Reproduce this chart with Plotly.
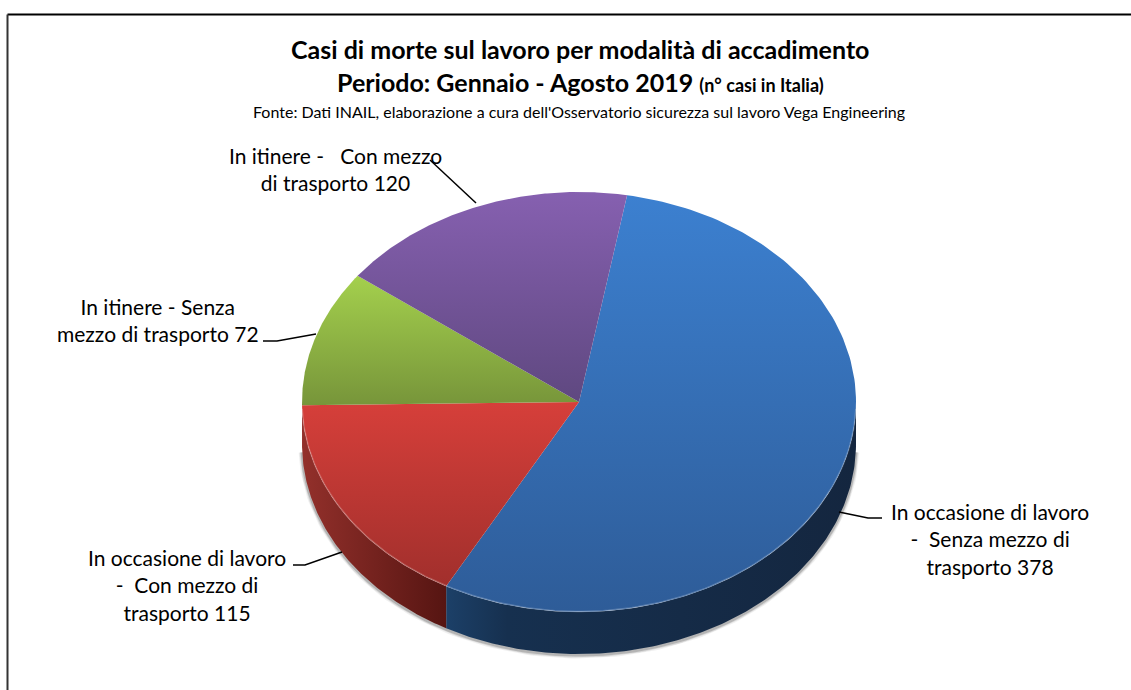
import numpy as np
import plotly.graph_objects as go

# ---- data -------------------------------------------------------------
categories = ["In occasione di lavoro<br>-  Senza mezzo di<br>trasporto 378",
              "In occasione di lavoro<br>-  Con mezzo di<br>trasporto 115",
              "In itinere - Senza<br>mezzo di trasporto 72",
              "In itinere -   Con mezzo<br>di trasporto 120"]
values = [378, 115, 72, 120]
top_colors = ["#3c80d0", "#d63f3a", "#a4d04d", "#8660b0"]
bottom_colors = ["#2e5c98", "#a12f2c", "#77953a", "#5f4880"]
wall_scales = [[[0, "#1c4068"], [0.15, "#16304f"], [1, "#14263f"]],
               [[0, "#93302b"], [1, "#561512"]],
               None,
               None]
title_1 = "Casi di morte sul lavoro per modalità di accadimento"
title_2 = "Periodo: Gennaio - Agosto 2019"
title_3 = "(n° casi in Italia)"
source = "Fonte: Dati INAIL, elaborazione a cura dell'Osservatorio sicurezza sul lavoro Vega Engineering"

# ---- geometry (pixels) ------------------------------------------------
CX, CY, RX, RY, DEPTH = 579, 402, 277, 210, 42
START = 10.0
FONT = "Lato"


def arc(a0, a1, dy=0.0, n=160):
    t = np.radians(np.linspace(a0, a1, n))
    return CX + RX * np.sin(t), CY - RY * np.cos(t) + dy


fig = go.Figure()

edges = START + np.concatenate([[0], np.cumsum(values)]) * 360.0 / sum(values)

# soft shadow under the disc
for w, alpha in [(7, 0.08), (5, 0.14), (3, 0.25)]:
    x, y = arc(92, 268, DEPTH + 1.0)
    fig.add_trace(go.Scatter(x=x, y=y, mode="lines", hoverinfo="skip",
                             line=dict(color=f"rgba(70,70,70,{alpha})", width=w)))

# side walls (front part only)
for i in range(len(values)):
    a0, a1 = max(edges[i], 90), min(edges[i + 1], 270)
    if a1 <= a0 or wall_scales[i] is None:
        continue
    xt, yt = arc(a0, a1)
    xb, yb = arc(a1, a0, DEPTH)
    fig.add_trace(go.Scatter(x=np.r_[xt, xb], y=np.r_[yt, yb], mode="lines", fill="toself",
                             hoverinfo="skip", line=dict(width=0),
                             fillgradient=dict(type="horizontal", colorscale=wall_scales[i])))

# top faces (the y axis is reversed, so the gradient runs bottom -> top in scale order)
for i in range(len(values)):
    x, y = arc(edges[i], edges[i + 1])
    fig.add_trace(go.Scatter(x=np.r_[CX, x, CX], y=np.r_[CY, y, CY], mode="lines", fill="toself",
                             hoverinfo="skip", line=dict(width=0),
                             fillgradient=dict(type="vertical",
                                               colorscale=[[0, bottom_colors[i]], [1, top_colors[i]]])))

# light rim on the front edge of the top face
x, y = arc(92, 268, -0.5)
fig.add_trace(go.Scatter(x=x, y=y, mode="lines", hoverinfo="skip",
                         line=dict(color="rgba(255,255,255,0.22)", width=1.5)))

# leader lines: (label anchor) -> elbow -> slice
leaders = [([882, 868, 839], [518, 518, 512]),
           ([293, 305, 342], [565, 565, 552]),
           ([263, 277, 316], [341, 341, 334]),
           ([430, 476], [160, 203])]
for lx, ly in leaders:
    fig.add_trace(go.Scatter(x=lx, y=ly, mode="lines", hoverinfo="skip",
                             line=dict(color="black", width=1.5)))

# labels
LABEL_POS = [(990, 539), (187, 585), (158, 320), (335, 169)]
anns = []
for txt, (lx, ly) in zip(categories, LABEL_POS):
    anns.append(dict(x=lx, y=ly, text=txt, showarrow=False, align="center",
                     font=dict(family=FONT, size=21, color="black"),
                     xanchor="center", yanchor="middle"))
anns.append(dict(x=580, y=49, text=f"<b>{title_1}</b>", showarrow=False,
                 font=dict(family=FONT, size=25, color="black")))
anns.append(dict(x=580, y=82, text=f"<b>{title_2} <span style='font-size:18px'>{title_3}</span></b>",
                 showarrow=False, font=dict(family=FONT, size=25, color="black")))
anns.append(dict(x=579, y=111, text=source, showarrow=False,
                 font=dict(family=FONT, size=16, color="black")))

# frame
shapes = [dict(type="line", x0=7.5, x1=1131, y0=14.5, y1=14.5, line=dict(color="black", width=2)),
          dict(type="line", x0=7.5, x1=7.5, y0=14.5, y1=690, line=dict(color="#333333", width=2))]

fig.update_layout(width=1131, height=690, margin=dict(l=0, r=0, t=0, b=0),
                  plot_bgcolor="white", paper_bgcolor="white", showlegend=False,
                  annotations=anns, shapes=shapes,
                  xaxis=dict(range=[0, 1131], visible=False, fixedrange=True),
                  yaxis=dict(range=[690, 0], visible=False, fixedrange=True))
fig.write_html("out.html", config={"displayModeBar": False},
               post_script="document.body.style.margin='0';document.body.style.overflow='hidden';")
